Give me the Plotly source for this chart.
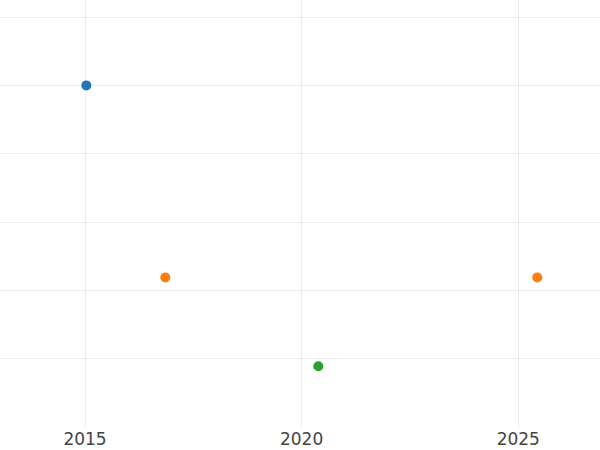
import plotly.graph_objects as go

# Data
blue_x = ["2015-01-12"]
blue_y = [5.0]
orange_x = ["2016-11-08", "2025-06-10"]
orange_y = [2.19, 2.19]
green_x = ["2020-05-21"]
green_y = [0.89]

x_tickvals = ["2015-01-01", "2020-01-01", "2025-01-01"]
x_ticktext = ["2015", "2020", "2025"]
y_gridvals = [1, 2, 3, 4, 5, 6]

fig = go.Figure()
for xs, ys, col in [(blue_x, blue_y, "#1f77b4"),
                    (orange_x, orange_y, "#ff7f0e"),
                    (green_x, green_y, "#2ca02c")]:
    fig.add_trace(go.Scatter(x=xs, y=ys, mode="markers",
                             marker=dict(color=col, size=10, line=dict(width=0)),
                             showlegend=False))

fig.update_layout(
    width=600, height=450,
    margin=dict(l=0, r=0, t=0, b=23, pad=0),
    paper_bgcolor="white", plot_bgcolor="white",
    font=dict(family="DejaVu Sans", size=17, color="#444444"),
    xaxis=dict(type="date", range=["2013-01-14", "2026-11-21"],
               tickvals=x_tickvals, ticktext=x_ticktext,
               showgrid=True, gridcolor="#ebebeb", gridwidth=1.25,
               zeroline=False, showline=False, ticks="", automargin=False),
    yaxis=dict(range=[0, 6.25], tickvals=y_gridvals, showticklabels=False,
               showgrid=True, gridcolor="#ebebeb", gridwidth=1.25,
               zeroline=False, showline=False, ticks="", automargin=False),
)
fig.write_html("out.html", config={"displayModeBar": False},
               post_script="document.body.style.margin='0';document.body.style.overflow='hidden';")
